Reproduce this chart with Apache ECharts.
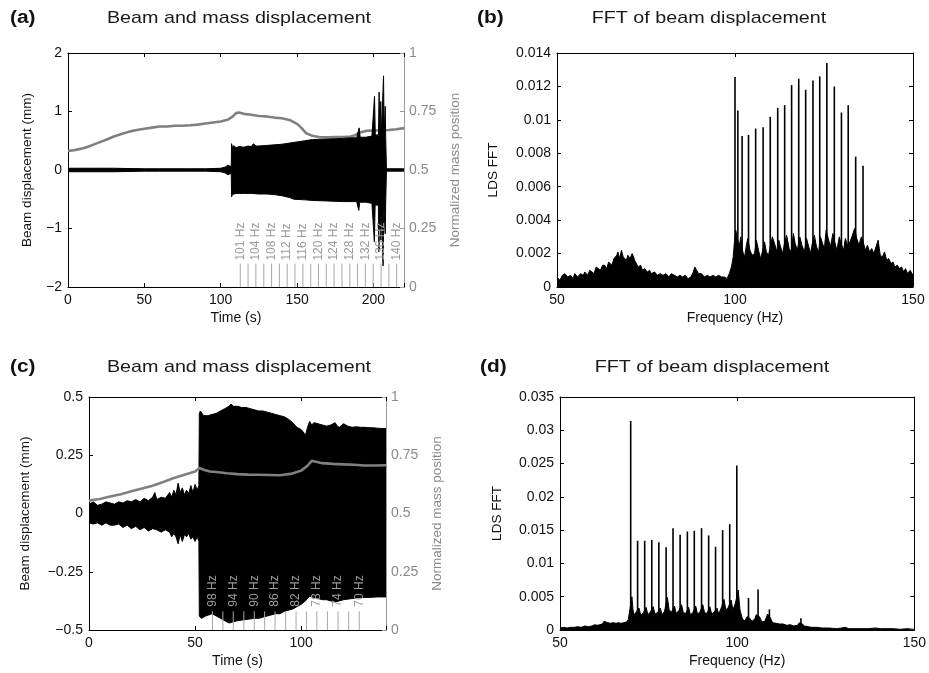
<!DOCTYPE html>
<html>
<head>
<meta charset="utf-8">
<script src="https://cdn.jsdelivr.net/npm/echarts@6/dist/echarts.min.js"></script>
<style>
  html, body { margin: 0; padding: 0; background: #fff; }
  #main { width: 929px; height: 673px; }
</style>
</head>
<body>
<div id="main"></div>
<script>
// ---- panel (a): sweep up, beam + mass ----
const massA = [[0,0.581],[5,0.586],[10,0.593],[15,0.604],[20,0.617],[25,0.629],[30,0.643],[35,0.654],[40,0.664],[45,0.671],[50,0.676],[55,0.681],[60,0.686],[65,0.686],[70,0.689],[75,0.689],[80,0.691],[85,0.694],[90,0.699],[95,0.703],[100,0.707],[105,0.716],[108,0.729],[110,0.743],[112,0.746],[115,0.740],[120,0.736],[125,0.731],[130,0.729],[135,0.724],[140,0.721],[145,0.714],[150,0.697],[153,0.679],[156,0.657],[160,0.646],[165,0.640],[170,0.640],[175,0.641],[180,0.641],[185,0.643],[188,0.649],[191,0.660],[195,0.667],[200,0.669],[205,0.669],[210,0.671],[215,0.674],[220,0.679]];
const upperA = [[0,0.03],[10,0.03],[20,0.03],[30,0.03],[40,0.025],[50,0.02],[60,0.02],[70,0.02],[80,0.02],[90,0.02],[95,0.025],[100,0.03],[103,0.05],[104.5,0.08],[105.5,0.05],[106.9,0.06],[107.1,0.45],[107.6,0.38],[108.5,0.42],[110,0.38],[112,0.40],[115,0.39],[118,0.41],[120,0.40],[121.5,0.45],[123,0.41],[125,0.41],[130,0.42],[135,0.43],[140,0.44],[145,0.46],[150,0.48],[155,0.50],[160,0.52],[165,0.525],[170,0.53],[175,0.535],[180,0.54],[185,0.55],[189,0.55],[190.6,0.72],[191.3,0.56],[195,0.56],[199,0.58],[200.3,0.58],[200.7,1.26],[201.2,0.60],[203.3,0.60],[203.7,1.33],[204.2,0.62],[204.5,0.62],[204.8,1.17],[205.2,0.60],[206.2,0.60],[206.6,1.61],[207.0,0.60],[207.4,0.60],[207.7,1.09],[208.0,0.57],[208.3,0.55],[208.5,0.02],[220,0.02]];
const lowerA = [[0,-0.03],[10,-0.03],[20,-0.03],[30,-0.03],[40,-0.025],[50,-0.02],[60,-0.02],[70,-0.02],[80,-0.02],[90,-0.02],[95,-0.025],[100,-0.03],[103,-0.05],[104.5,-0.08],[105.5,-0.05],[106.9,-0.06],[107.1,-0.46],[107.6,-0.42],[110,-0.40],[115,-0.40],[120,-0.40],[125,-0.41],[130,-0.41],[135,-0.42],[140,-0.44],[145,-0.47],[148,-0.50],[155,-0.51],[160,-0.52],[170,-0.53],[180,-0.54],[189,-0.54],[190.4,-0.69],[191.0,-0.55],[195,-0.55],[199,-0.57],[200.2,-0.58],[200.6,-1.23],[201.1,-0.60],[203.2,-0.60],[203.6,-1.40],[204.1,-0.62],[204.5,-0.60],[204.9,-1.20],[205.3,-0.60],[205.9,-0.60],[206.3,-1.64],[206.8,-0.60],[207.3,-0.60],[207.7,-1.09],[208.0,-0.57],[208.3,-0.55],[208.5,-0.02],[220,-0.02]];
const markTimeA = [112.8, 117.9, 123.0, 128.2, 133.3, 138.4, 143.5, 148.6, 153.8, 158.9, 164.0, 169.1, 174.2, 179.4, 184.5, 189.6, 194.7, 199.8, 205.0, 210.1, 215.2];
const markLabelA = ['101 Hz','','104 Hz','','108 Hz','','112 Hz','','116 Hz','','120 Hz','','124 Hz','','128 Hz','','132 Hz','','136 Hz','','140 Hz'];

// ---- panel (b): FFT of (a) ----
const noiseB = [[50.0,0.0006],[50.8,0.0004],[51.5,0.0007],[52.2,0.0008],[53.0,0.0006],[53.8,0.0007],[54.5,0.0005],[55.0,0.0008],[55.8,0.0006],[56.6,0.0008],[57.4,0.0007],[57.8,0.0009],[58.6,0.0007],[59.2,0.0010],[59.7,0.0011],[60.4,0.0008],[61.0,0.0012],[61.5,0.0012],[62.2,0.0010],[62.8,0.0013],[63.4,0.0013],[64.0,0.0011],[64.5,0.0015],[64.8,0.0015],[65.4,0.0013],[66.0,0.0017],[66.4,0.0016],[66.8,0.0019],[67.1,0.0021],[67.6,0.0017],[68.1,0.0022],[68.6,0.0018],[69.0,0.0018],[69.5,0.0016],[69.9,0.0019],[70.5,0.0017],[71.1,0.0020],[71.5,0.0018],[71.8,0.0016],[72.3,0.0015],[72.8,0.0012],[73.5,0.0013],[74.0,0.0010],[74.6,0.0011],[75.4,0.0009],[76.0,0.0010],[76.5,0.0008],[77.4,0.0009],[78.2,0.0007],[79.0,0.0008],[79.8,0.0007],[80.6,0.0008],[81.4,0.0006],[82.1,0.0008],[83.0,0.0007],[83.8,0.0006],[84.5,0.0007],[85.3,0.0006],[86.0,0.0007],[86.8,0.0005],[87.6,0.0006],[88.3,0.0009],[88.7,0.0012],[89.2,0.0010],[89.8,0.0008],[90.6,0.0008],[91.4,0.0006],[92.2,0.0007],[93.0,0.0006],[93.8,0.0007],[94.6,0.0006],[95.4,0.0007],[96.2,0.0006],[97.0,0.0006],[97.8,0.0005],[98.4,0.0008],[99.0,0.0012],[99.5,0.0018],[99.8,0.0026],[100.2,0.0034],[100.6,0.0030],[101.2,0.0024],[101.6,0.0030],[102.2,0.0021],[102.7,0.0018],[103.2,0.0025],[103.6,0.0029],[104.2,0.0022],[104.8,0.0019],[105.5,0.0020],[106.0,0.0028],[106.6,0.0022],[107.2,0.0017],[107.8,0.0022],[108.3,0.0027],[108.8,0.0021],[109.4,0.0019],[110.0,0.0025],[110.5,0.0030],[111.1,0.0026],[111.8,0.0021],[112.3,0.0028],[112.8,0.0024],[113.4,0.0020],[113.9,0.0026],[114.5,0.0031],[115.2,0.0023],[115.8,0.0021],[116.4,0.0032],[116.9,0.0026],[117.5,0.0022],[118.2,0.0030],[118.8,0.0025],[119.5,0.0021],[120.1,0.0029],[120.6,0.0025],[121.2,0.0020],[121.8,0.0027],[122.3,0.0031],[122.9,0.0024],[123.5,0.0021],[124.0,0.0030],[124.6,0.0026],[125.1,0.0023],[125.6,0.0034],[126.2,0.0029],[126.8,0.0024],[127.5,0.0032],[128.0,0.0027],[128.6,0.0022],[129.3,0.0030],[129.8,0.0026],[130.5,0.0022],[131.0,0.0029],[131.6,0.0025],[132.3,0.0027],[133.0,0.0031],[133.6,0.0035],[134.2,0.0029],[134.8,0.0025],[135.5,0.0030],[136.0,0.0027],[136.6,0.0022],[137.2,0.0025],[137.8,0.0021],[138.4,0.0023],[139.0,0.0020],[139.6,0.0024],[140.2,0.0028],[140.8,0.0019],[141.4,0.0018],[142.0,0.0021],[142.6,0.0016],[143.2,0.0017],[143.8,0.0014],[144.4,0.0015],[144.9,0.0012],[145.6,0.0013],[146.2,0.0011],[146.8,0.0012],[147.4,0.0009],[147.9,0.0011],[148.5,0.0008],[149.2,0.0010],[150.0,0.0007]];
const peaksB = [[100.0,0.01256],[100.8,0.01056],[102.0,0.00904],[103.8,0.0091],[105.8,0.00948],[107.9,0.00956],[109.9,0.01018],[112.0,0.01072],[113.95,0.01088],[115.9,0.01208],[117.9,0.01246],[119.85,0.0118],[121.9,0.01236],[123.8,0.0126],[125.8,0.0134],[127.9,0.012],[129.9,0.01044],[131.8,0.01088],[133.9,0.0078],[135.96,0.00726]];

// ---- panel (c): sweep down, beam + mass ----
const massC = [[0,0.556],[5,0.562],[10,0.573],[15,0.583],[20,0.595],[25,0.607],[30,0.619],[35,0.635],[40,0.652],[45,0.666],[50,0.680],[52,0.695],[54,0.688],[57,0.680],[60,0.678],[65,0.673],[70,0.669],[75,0.667],[80,0.666],[85,0.665],[90,0.664],[95,0.670],[100,0.684],[103,0.705],[105,0.726],[107,0.722],[110,0.716],[115,0.713],[120,0.711],[125,0.709],[130,0.706],[135,0.706],[140,0.707]];
const upperC = [[0,0.04],[2,0.05],[4,0.035],[6,0.04],[8,0.05],[10,0.045],[12,0.04],[14,0.05],[16,0.045],[18,0.055],[20,0.05],[22,0.06],[24,0.05],[26,0.065],[28,0.055],[30,0.07],[31,0.09],[32,0.06],[34,0.07],[36,0.065],[38,0.09],[39,0.07],[40,0.1],[41,0.08],[42,0.13],[43,0.09],[44,0.11],[45,0.08],[46,0.1],[47,0.085],[48,0.12],[49,0.09],[50,0.125],[51,0.1],[51.8,0.12],[52.0,0.43],[52.5,0.44],[54,0.42],[56,0.42],[58,0.425],[60,0.43],[62,0.44],[64,0.45],[66,0.46],[67,0.47],[68,0.46],[70,0.46],[72,0.455],[74,0.455],[76,0.45],[78,0.445],[80,0.44],[82,0.44],[84,0.435],[86,0.43],[88,0.425],[90,0.42],[92,0.415],[94,0.405],[96,0.39],[98,0.37],[100,0.36],[101,0.35],[102,0.335],[103,0.37],[104,0.395],[105,0.38],[106,0.39],[108,0.385],[110,0.38],[112,0.375],[114,0.38],[116,0.39],[117,0.375],[118,0.37],[120,0.385],[122,0.375],[124,0.37],[126,0.372],[128,0.37],[130,0.37],[132,0.368],[134,0.368],[136,0.366],[138,0.365],[140,0.365]];
const lowerC = [[0,-0.04],[2,-0.045],[4,-0.04],[6,-0.05],[8,-0.04],[10,-0.05],[12,-0.05],[14,-0.045],[16,-0.06],[18,-0.05],[20,-0.065],[22,-0.055],[24,-0.07],[26,-0.06],[28,-0.075],[30,-0.065],[32,-0.07],[34,-0.08],[36,-0.07],[38,-0.08],[39,-0.1],[40,-0.085],[41,-0.1],[42,-0.13],[43,-0.09],[44,-0.12],[45,-0.09],[46,-0.1],[47,-0.085],[48,-0.11],[49,-0.1],[50,-0.12],[51,-0.1],[51.8,-0.12],[52.0,-0.44],[53,-0.45],[55,-0.44],[58,-0.43],[60,-0.44],[62,-0.45],[64,-0.46],[66,-0.47],[68,-0.465],[70,-0.46],[74,-0.455],[78,-0.45],[80,-0.45],[84,-0.44],[88,-0.43],[90,-0.43],[92,-0.42],[94,-0.415],[96,-0.41],[98,-0.4],[100,-0.39],[102,-0.375],[104,-0.355],[106,-0.36],[108,-0.365],[110,-0.37],[112,-0.37],[114,-0.375],[116,-0.38],[118,-0.375],[120,-0.37],[124,-0.365],[128,-0.36],[132,-0.36],[136,-0.358],[140,-0.358]];
const markTimeC = [58.2, 63.1, 68.0, 73.0, 77.9, 82.8, 87.7, 92.7, 97.6, 102.5, 107.4, 112.4, 117.4, 122.4, 127.4];
const markLabelC = ['98 Hz','','94 Hz','','90 Hz','','86 Hz','','82 Hz','','78 Hz','','74 Hz','','70 Hz'];

// ---- panel (d): FFT of (c) ----
const noiseD = [[50.0,0.0003],[51.0,0.0004],[52.0,0.0003],[53.0,0.0004],[54.0,0.0004],[55.0,0.0005],[56.0,0.0004],[57.0,0.0006],[58.0,0.0005],[59.0,0.0006],[59.8,0.0008],[60.5,0.0007],[61.2,0.0008],[62.0,0.0009],[62.4,0.0013],[62.8,0.0010],[63.5,0.0011],[64.2,0.0010],[65.0,0.0011],[65.8,0.0010],[66.5,0.0011],[67.2,0.0010],[68.0,0.0011],[68.8,0.0012],[69.3,0.0016],[69.7,0.0030],[70.3,0.0050],[70.6,0.0030],[71.0,0.0022],[71.6,0.0028],[72.3,0.0033],[72.8,0.0022],[73.5,0.0026],[74.3,0.0034],[74.8,0.0023],[75.5,0.0027],[76.3,0.0035],[76.8,0.0024],[77.5,0.0026],[78.3,0.0033],[78.8,0.0023],[79.5,0.0028],[80.3,0.0049],[80.8,0.0030],[81.5,0.0027],[82.3,0.0036],[82.8,0.0025],[83.5,0.0029],[84.3,0.0038],[84.8,0.0026],[85.5,0.0025],[86.3,0.0034],[86.8,0.0023],[87.5,0.0026],[88.3,0.0036],[88.8,0.0024],[89.5,0.0027],[90.3,0.0038],[90.8,0.0026],[91.5,0.0025],[92.3,0.0035],[92.8,0.0024],[93.5,0.0027],[94.3,0.0033],[94.8,0.0024],[95.5,0.0033],[96.3,0.0046],[96.8,0.0030],[97.5,0.0034],[98.3,0.0045],[98.8,0.0030],[99.5,0.0040],[100.3,0.0060],[100.8,0.0030],[101.5,0.0016],[102.2,0.0014],[102.8,0.0020],[103.5,0.0018],[104.2,0.0013],[105.0,0.0017],[105.4,0.0023],[106.3,0.0020],[107.0,0.0012],[107.8,0.0013],[108.6,0.0024],[109.4,0.0018],[110.0,0.0011],[111.0,0.0010],[112.0,0.0009],[113.0,0.0009],[114.0,0.0007],[115.0,0.0008],[116.0,0.0006],[117.0,0.0007],[117.6,0.0011],[118.4,0.0009],[119.0,0.0006],[120.0,0.0005],[121.0,0.0004],[122.5,0.0004],[124.0,0.0003],[126.0,0.0003],[128.0,0.0002],[129.5,0.0003],[130.5,0.0004],[131.5,0.0002],[133.0,0.0002],[135.0,0.0002],[137.0,0.0002],[139.0,0.0003],[139.5,0.0004],[140.5,0.0002],[142.0,0.0002],[144.0,0.0002],[146.0,0.0001],[148.0,0.0002],[150.0,0.0001]];
const peaksD = [[69.95,0.0314],[71.9,0.0134],[73.9,0.0134],[75.9,0.01354],[77.9,0.0132],[79.95,0.01244],[81.9,0.0153],[83.9,0.0143],[85.95,0.0148],[87.9,0.0149],[89.95,0.0153],[91.95,0.0142],[93.9,0.0125],[95.9,0.0150],[97.9,0.0159],[99.9,0.0247],[103.2,0.0048],[105.9,0.0061],[109.1,0.0031],[118.0,0.00175]];

const FONT = '"Liberation Sans", Arial, Helvetica, sans-serif';
const GREY = '#8a8a8a';
const INK = '#111';

function minus(v) {
  return v < 0 ? '\u2212' + String(-v) : String(v);
}

function bottomAxis(grid, min, max, name) {
  return {
    type: 'value', gridIndex: grid, position: 'bottom', min: min, max: max, interval: 50,
    name: name, nameLocation: 'middle', nameGap: 24,
    nameTextStyle: { fontFamily: FONT, fontSize: 14, color: INK },
    axisLine: { show: true, onZero: false, lineStyle: { color: '#000', width: 1 } },
    axisTick: { show: true, inside: true, length: 4, lineStyle: { color: '#000' } },
    axisLabel: {
      fontFamily: FONT, fontSize: 14, color: INK, margin: 6,
      formatter: v => (v % 50 === 0 ? String(v) : '')
    },
    splitLine: { show: false }
  };
}

function topAxis(grid, min, max) {
  return {
    type: 'value', gridIndex: grid, position: 'top', min: min, max: max, interval: 50,
    axisLine: { show: true, onZero: false, lineStyle: { color: '#000', width: 1 } },
    axisTick: { show: true, inside: true, length: 4, lineStyle: { color: '#000' } },
    axisLabel: { show: false },
    splitLine: { show: false }
  };
}

function leftAxis(grid, min, max, interval, name, gap, fmt) {
  return {
    type: 'value', gridIndex: grid, position: 'left', min: min, max: max, interval: interval,
    name: name, nameLocation: 'middle', nameGap: gap,
    nameTextStyle: { fontFamily: FONT, fontSize: 13.5, color: INK },
    axisLine: { show: true, onZero: false, lineStyle: { color: '#000', width: 1 } },
    axisTick: { show: true, inside: true, length: 4, lineStyle: { color: '#000' } },
    axisLabel: { fontFamily: FONT, fontSize: 14, color: INK, margin: 6, formatter: fmt },
    splitLine: { show: false }
  };
}

function rightMassAxis(grid, gap) {
  return {
    type: 'value', gridIndex: grid, position: 'right', min: 0, max: 1, interval: 0.25,
    name: 'Normalized mass position', nameLocation: 'middle', nameGap: gap, nameRotate: 90,
    nameTextStyle: { fontFamily: FONT, fontSize: 13.5, color: GREY },
    axisLine: { show: true, onZero: false, lineStyle: { color: '#999', width: 1 } },
    axisTick: { show: true, inside: true, length: 4, lineStyle: { color: '#999' } },
    axisLabel: { fontFamily: FONT, fontSize: 14, color: GREY, margin: 5 },
    splitLine: { show: false }
  };
}

function rightFrameAxis(grid, min, max, interval) {
  return {
    type: 'value', gridIndex: grid, position: 'right', min: min, max: max, interval: interval,
    axisLine: { show: true, onZero: false, lineStyle: { color: '#000', width: 1 } },
    axisTick: { show: true, inside: true, length: 4, lineStyle: { color: '#000' } },
    axisLabel: { show: false },
    splitLine: { show: false }
  };
}

// grey frequency markers with rotated labels (uses the mass axis 0..1)
function markRenderer(labels, lineTop, labelBase) {
  return function (params, api) {
    const t = api.value(0);
    const p0 = api.coord([t, 0]);
    const p1 = api.coord([t, lineTop]);
    const children = [{
      type: 'line',
      shape: { x1: p0[0], y1: p0[1], x2: p1[0], y2: p1[1] },
      style: { stroke: '#a8a8a8', lineWidth: 1 }
    }];
    const lab = labels[params.dataIndex];
    if (lab) {
      const p2 = api.coord([t, labelBase]);
      children.push({
        type: 'text', x: p2[0], y: p2[1], rotation: Math.PI / 2,
        style: { text: lab, fill: '#9a9a9a', fontSize: 12, fontFamily: FONT, align: 'left', verticalAlign: 'middle' }
      });
    }
    return { type: 'group', children: children };
  };
}

// filled envelope; origin a little past zero so the two halves overlap (no seam)
function band(xi, yi, data, z, origin) {
  return {
    type: 'line', xAxisIndex: xi, yAxisIndex: yi, data: data, showSymbol: false, z: z,
    lineStyle: { color: '#000', width: 1 },
    areaStyle: { color: '#000', opacity: 1, origin: origin === undefined ? 'auto' : origin }
  };
}

function massLine(xi, yi, data, z) {
  return {
    type: 'line', xAxisIndex: xi, yAxisIndex: yi, data: data, showSymbol: false, z: z,
    lineStyle: { color: '#808080', width: 2.6 }
  };
}

function peakBars(xi, yi, data) {
  return {
    type: 'bar', xAxisIndex: xi, yAxisIndex: yi, data: data, barWidth: 1.6, z: 3,
    itemStyle: { color: '#000' }
  };
}

function heading(x, y, text) {
  return {
    type: 'text', x: x, y: y, scaleX: 1.16,
    style: { text: text, fill: '#1a1a1a', fontSize: 17, fontFamily: FONT, align: 'center', verticalAlign: 'middle' }
  };
}

function panelTag(x, y, text) {
  return {
    type: 'text', x: x, y: y, scaleX: 1.16,
    style: { text: text, fill: '#111', fontSize: 18, fontWeight: 'bold', fontFamily: FONT, align: 'left', verticalAlign: 'middle' }
  };
}

const chart = echarts.init(document.getElementById('main'), null, { renderer: 'canvas' });

chart.setOption({
  animation: false,
  backgroundColor: '#fff',
  grid: [
    { left: 68, top: 53, width: 336, height: 234 },
    { left: 557, top: 53, width: 356, height: 234 },
    { left: 89, top: 397, width: 297, height: 233 },
    { left: 560, top: 397, width: 356, height: 233 }
  ],
  xAxis: [
    bottomAxis(0, 0, 220, 'Time (s)'),
    topAxis(0, 0, 220),
    bottomAxis(1, 50, 150, 'Frequency (Hz)'),
    topAxis(1, 50, 150),
    bottomAxis(2, 0, 140, 'Time (s)'),
    topAxis(2, 0, 140),
    bottomAxis(3, 50, 150, 'Frequency (Hz)'),
    topAxis(3, 50, 150)
  ],
  yAxis: [
    leftAxis(0, -2, 2, 1, 'Beam displacement (mm)', 34, minus),
    rightMassAxis(0, 44),
    leftAxis(1, 0, 0.014, 0.002, 'LDS FFT', 57, v => String(+v.toFixed(3))),
    rightFrameAxis(1, 0, 0.014, 0.002),
    leftAxis(2, -0.5, 0.5, 0.25, 'Beam displacement (mm)', 57, minus),
    rightMassAxis(2, 44),
    leftAxis(3, 0, 0.035, 0.005, 'LDS FFT', 56, v => String(+v.toFixed(3))),
    rightFrameAxis(3, 0, 0.035, 0.005)
  ],
  graphic: [
    panelTag(10, 18, '(a)'),
    heading(239, 18, 'Beam and mass displacement'),
    panelTag(477, 18, '(b)'),
    heading(709, 18, 'FFT of beam displacement'),
    panelTag(10, 367, '(c)'),
    heading(239, 367, 'Beam and mass displacement'),
    panelTag(480, 367, '(d)'),
    heading(712, 367, 'FFT of beam displacement')
  ],
  series: [
    // (a)
    massLine(0, 1, massA, 2),
    band(0, 0, upperA, 3, 0),
    band(0, 0, lowerA, 3, 0.02),
    {
      type: 'custom', xAxisIndex: 0, yAxisIndex: 1, z: 5,
      data: markTimeA.map(t => [t, 0]),
      renderItem: markRenderer(markLabelA, 0.1, 0.113)
    },
    // (b)
    band(2, 2, noiseB, 2),
    peakBars(2, 2, peaksB),
    // (c)
    band(4, 4, upperC, 2, 0),
    band(4, 4, lowerC, 2, 0.02),
    massLine(4, 5, massC, 3),
    {
      type: 'custom', xAxisIndex: 4, yAxisIndex: 5, z: 5,
      data: markTimeC.map(t => [t, 0]),
      renderItem: markRenderer(markLabelC, 0.08, 0.1)
    },
    // (d)
    band(6, 6, noiseD, 2),
    peakBars(6, 6, peaksD)
  ]
});
</script>
</body>
</html>
